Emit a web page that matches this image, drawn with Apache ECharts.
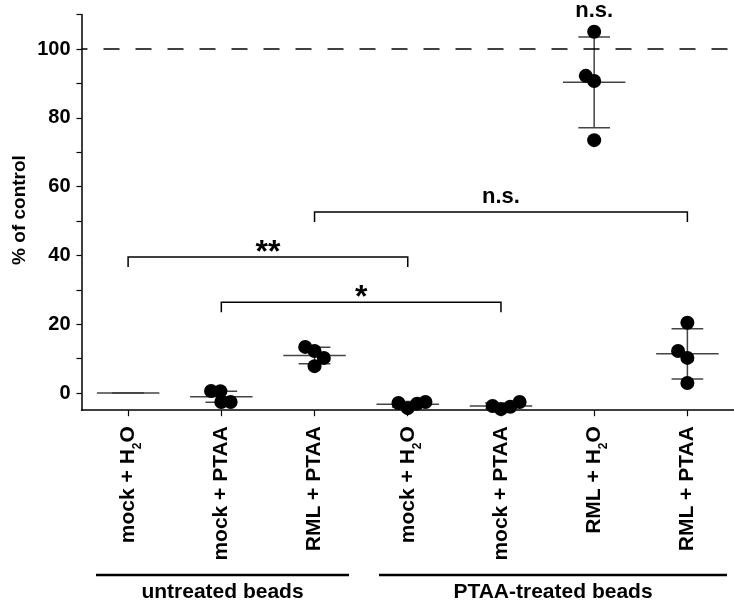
<!DOCTYPE html>
<html><head><meta charset="utf-8">
<script src="https://cdn.jsdelivr.net/npm/echarts@6/dist/echarts.min.js"></script>
<style>html,body{margin:0;padding:0;background:#fff}#c{width:734px;height:604px}</style>
</head><body><div id="c"></div>
<script>
// ---- data ----
const categories = ['mock + H2O', 'mock + PTAA', 'RML + PTAA', 'mock + H2O', 'mock + PTAA', 'RML + H2O', 'RML + PTAA'];
const groupLabels = ['untreated beads', 'PTAA-treated beads'];
const pointValues = [
  [],
  [0.6, 0.5, -2.6, -2.6],
  [13.4, 12.2, 10.2, 7.8],
  [-2.9, -4.4, -3.1, -2.6],
  [-3.8, -4.7, -4.0, -2.6],
  [105.0, 92.2, 90.7, 73.5],
  [20.4, 12.2, 10.2, 2.9]
];
const pointOffsets = [
  [],
  [-0.11, -0.01, 0, 0.1],
  [-0.1, 0, 0.1, 0],
  [-0.1, 0, 0.1, 0.19],
  [-0.09, 0, 0.1, 0.2],
  [0, -0.09, 0, 0],
  [0, -0.1, 0, 0]
];
const means = [0, -1.1, 10.9, -3.3, -3.8, 90.3, 11.4];
const sds = [0, 1.6, 2.4, 0.8, 0.9, 13.2, 7.3];
const bracketFrom = [0, 1, 2];
const bracketTo = [3, 4, 6];
const bracketY = [39.5, 26.4, 52.6];
const bracketText = ['**', '*', 'n.s.'];
const topCat = [5];
const topY = [111];
const topText = ['n.s.'];
const refLine = 100;
const yTicks = [0, 10, 20, 30, 40, 50, 60, 70, 80, 90, 100, 110];
const yLabels = [0, 20, 40, 60, 80, 100];

// ---- chart ----
const FF = '"Liberation Sans", Arial, Helvetica, sans-serif';
const chart = echarts.init(document.getElementById('c'), null, {renderer: 'canvas'});

const scatterData = [];
pointValues.forEach((vals, i) => vals.forEach((v, j) => scatterData.push([i + pointOffsets[i][j], v])));
const barData = means.map((m, i) => [i, m, sds[i]]);
const bracketData = bracketFrom.map((f, i) => [f, bracketTo[i], bracketY[i], i]);
const topData = topCat.map((c, i) => [c, topY[i], i]);

const option = {
  animation: false,
  backgroundColor: '#fff',
  grid: {left: 81.5, top: 14.6, width: 659, height: 395.6, containLabel: false},
  xAxis: [{
    type: 'category',
    data: categories,
    boundaryGap: true,
    axisLine: {show: true, onZero: false, lineStyle: {color: '#000', width: 1.5}},
    axisTick: {show: true, alignWithLabel: true, length: 6, lineStyle: {color: '#000', width: 1.2}},
    axisLabel: {
      rotate: 90, margin: 16, color: '#000', fontSize: 21, fontWeight: 'bold', fontFamily: FF,
      lineHeight: 32, interval: 0,
      formatter: v => v.replace('H2O', 'H{sub|2}O'),
      rich: {sub: {fontSize: 12, fontWeight: 'bold', fontFamily: FF, color: '#000', verticalAlign: 'bottom', lineHeight: 12}}
    },
    splitLine: {show: false}
  }, {
    type: 'value', min: -0.5, max: 6.5, show: false,
    axisLine: {onZero: false}
  }],
  yAxis: {
    type: 'value', min: -5, max: 110,
    axisLine: {show: true, onZero: false, lineStyle: {color: '#000', width: 1.5}},
    axisTick: {show: true, length: 5, customValues: yTicks, lineStyle: {color: '#000', width: 1.2}},
    axisLabel: {customValues: yLabels, margin: 11, color: '#000', fontSize: 20, fontWeight: 'bold', fontFamily: FF},
    splitLine: {show: false}
  },
  series: [{
    type: 'custom',
    xAxisIndex: 1,
    data: barData,
    z: 2,
    renderItem: (params, api) => {
      const i = api.value(0), m = api.value(1), s = api.value(2);
      const c = api.coord([i, m]), t = api.coord([i, m + s]), b = api.coord([i, m - s]);
      const band = api.size([1, 0])[0];
      const hw = band * 0.335, cw = band * 0.17;
      const st = {stroke: '#444', lineWidth: 1.5};
      return {type: 'group', children: [
        {type: 'line', shape: {x1: t[0], y1: t[1], x2: b[0], y2: b[1]}, style: st},
        {type: 'line', shape: {x1: t[0] - cw, y1: t[1], x2: t[0] + cw, y2: t[1]}, style: st},
        {type: 'line', shape: {x1: b[0] - cw, y1: b[1], x2: b[0] + cw, y2: b[1]}, style: st},
        {type: 'line', shape: {x1: c[0] - hw, y1: c[1], x2: c[0] + hw, y2: c[1]}, style: st}
      ]};
    }
  }, {
    type: 'scatter',
    xAxisIndex: 1,
    data: scatterData,
    symbol: 'circle',
    symbolSize: 14,
    itemStyle: {color: '#000', opacity: 1},
    z: 5,
    markLine: {
      silent: true, symbol: 'none', label: {show: false},
      lineStyle: {color: '#000', width: 1.5, type: [16, 16], dashOffset: 10, opacity: 1},
      data: [{yAxis: refLine}]
    }
  }, {
    type: 'custom',
    xAxisIndex: 1,
    data: bracketData,
    clip: false,
    z: 3,
    renderItem: (params, api) => {
      const p1 = api.coord([api.value(0), api.value(2)]);
      const p2 = api.coord([api.value(1), api.value(2)]);
      const txt = bracketText[api.value(3)];
      const star = /^\*+$/.test(txt);
      const drop = 10;
      return {type: 'group', children: [
        {type: 'polyline', shape: {points: [[p1[0], p1[1] + drop], [p1[0], p1[1]], [p2[0], p1[1]], [p2[0], p2[1] + drop]]},
          style: {stroke: '#000', lineWidth: 1.5, fill: null}},
        {type: 'text', x: (p1[0] + p2[0]) / 2, y: p1[1] - (star ? 4 : 15),
          style: {text: txt, fill: '#000', align: 'center', verticalAlign: 'middle',
            fontSize: star ? 32 : 22, fontWeight: 'bold', fontFamily: FF}}
      ]};
    }
  }, {
    type: 'custom',
    xAxisIndex: 1,
    data: topData,
    clip: false,
    z: 3,
    renderItem: (params, api) => {
      const p = api.coord([api.value(0), api.value(1)]);
      return {type: 'text', x: p[0], y: p[1],
        style: {text: topText[api.value(2)], fill: '#000', align: 'center', verticalAlign: 'middle',
          fontSize: 22, fontWeight: 'bold', fontFamily: FF}};
    }
  }],
  graphic: [
    {type: 'text', x: 20, y: 210, rotation: Math.PI / 2,
      style: {text: '% of control', fill: '#000', align: 'center', verticalAlign: 'middle', fontSize: 19, fontWeight: 'bold', fontFamily: FF}},
    {type: 'line', shape: {x1: 96, y1: 575, x2: 349, y2: 575}, style: {stroke: '#000', lineWidth: 2.5}},
    {type: 'line', shape: {x1: 379, y1: 575, x2: 727, y2: 575}, style: {stroke: '#000', lineWidth: 2.5}},
    {type: 'text', x: 222.5, y: 592, style: {text: groupLabels[0], fill: '#000', align: 'center', verticalAlign: 'middle', fontSize: 21, fontWeight: 'bold', fontFamily: FF}},
    {type: 'text', x: 553, y: 592, style: {text: groupLabels[1], fill: '#000', align: 'center', verticalAlign: 'middle', fontSize: 21, fontWeight: 'bold', fontFamily: FF}}
  ]
};
chart.setOption(option);
</script>
</body></html>
